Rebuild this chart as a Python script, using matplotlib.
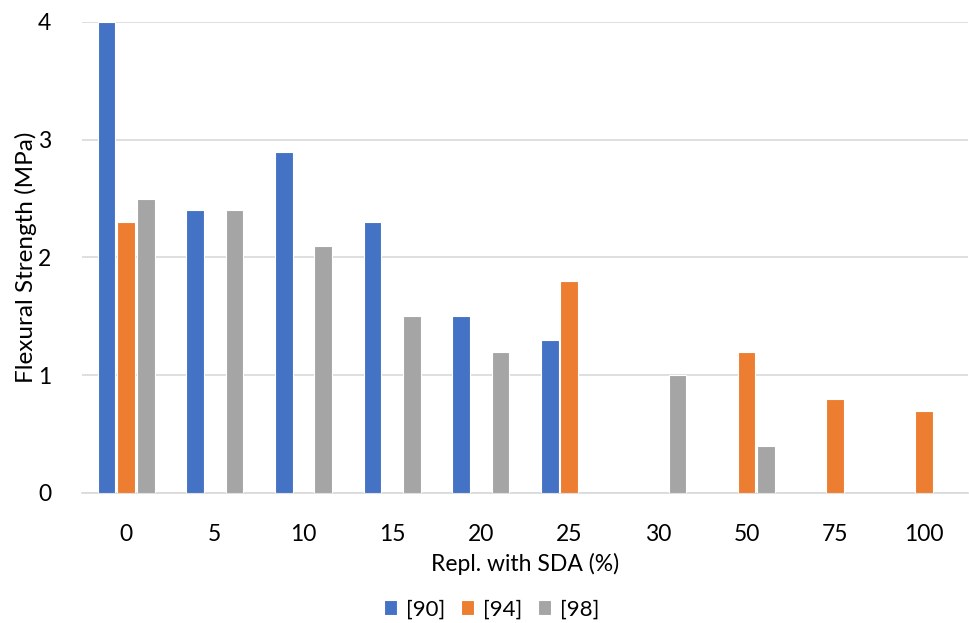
import numpy as np
import matplotlib.pyplot as plt

plt.rcParams['font.family'] = ['Lato', 'DejaVu Sans']

categories = ['0', '5', '10', '15', '20', '25', '30', '50', '75', '100']
ref_90 = [4.0, 2.4, 2.9, 2.3, 1.5, 1.3, np.nan, np.nan, np.nan, np.nan]
ref_94 = [2.3, np.nan, np.nan, np.nan, np.nan, 1.8, np.nan, 1.2, 0.8, 0.7]
ref_98 = [2.5, 2.4, 2.1, 1.5, 1.2, np.nan, 1.0, 0.4, np.nan, np.nan]

series = [('[90]', ref_90, '#4472C4'),
          ('[94]', ref_94, '#ED7D31'),
          ('[98]', ref_98, '#A5A5A5')]

fig = plt.figure(figsize=(9.7, 6.23), dpi=100)
ax = fig.add_axes([0.0845, 0.2087, 0.9135, 0.756])

x = np.arange(len(categories))
step = 0.222
width = 0.2
for i, (name, vals, color) in enumerate(series):
    ax.bar(x + (i - 1) * step, vals, width=width, color=color,
           edgecolor='white', linewidth=0.8, label=name, zorder=3)

ax.set_xlim(-0.5, len(categories) - 0.5)
ax.set_ylim(0, 4)
ax.set_yticks([0, 1, 2, 3, 4])
ax.set_xticks(x)
ax.set_xticklabels(categories)

ax.grid(axis='y', color='#D9D9D9', linewidth=1.2, zorder=0)
ax.set_axisbelow(True)
for side in ['top', 'right', 'left']:
    ax.spines[side].set_visible(False)
ax.spines['bottom'].set_color('#D9D9D9')
ax.spines['bottom'].set_linewidth(1.2)
ax.tick_params(axis='both', length=0, labelsize=16.5, colors='black')
ax.tick_params(axis='x', pad=22)
ax.tick_params(axis='y', pad=22)

ax.set_xlabel('Repl. with SDA (%)', fontsize=16.5, labelpad=6)
ax.set_ylabel('Flexural Strength (MPa)', fontsize=17.5, labelpad=1)

fig.legend(loc='center', bbox_to_anchor=(0.507, 0.022), ncol=3,
           frameon=False, fontsize=16, handlelength=0.6, handleheight=0.6,
           columnspacing=0.7, handletextpad=0.4)

fig.savefig('out.png', dpi=100)
